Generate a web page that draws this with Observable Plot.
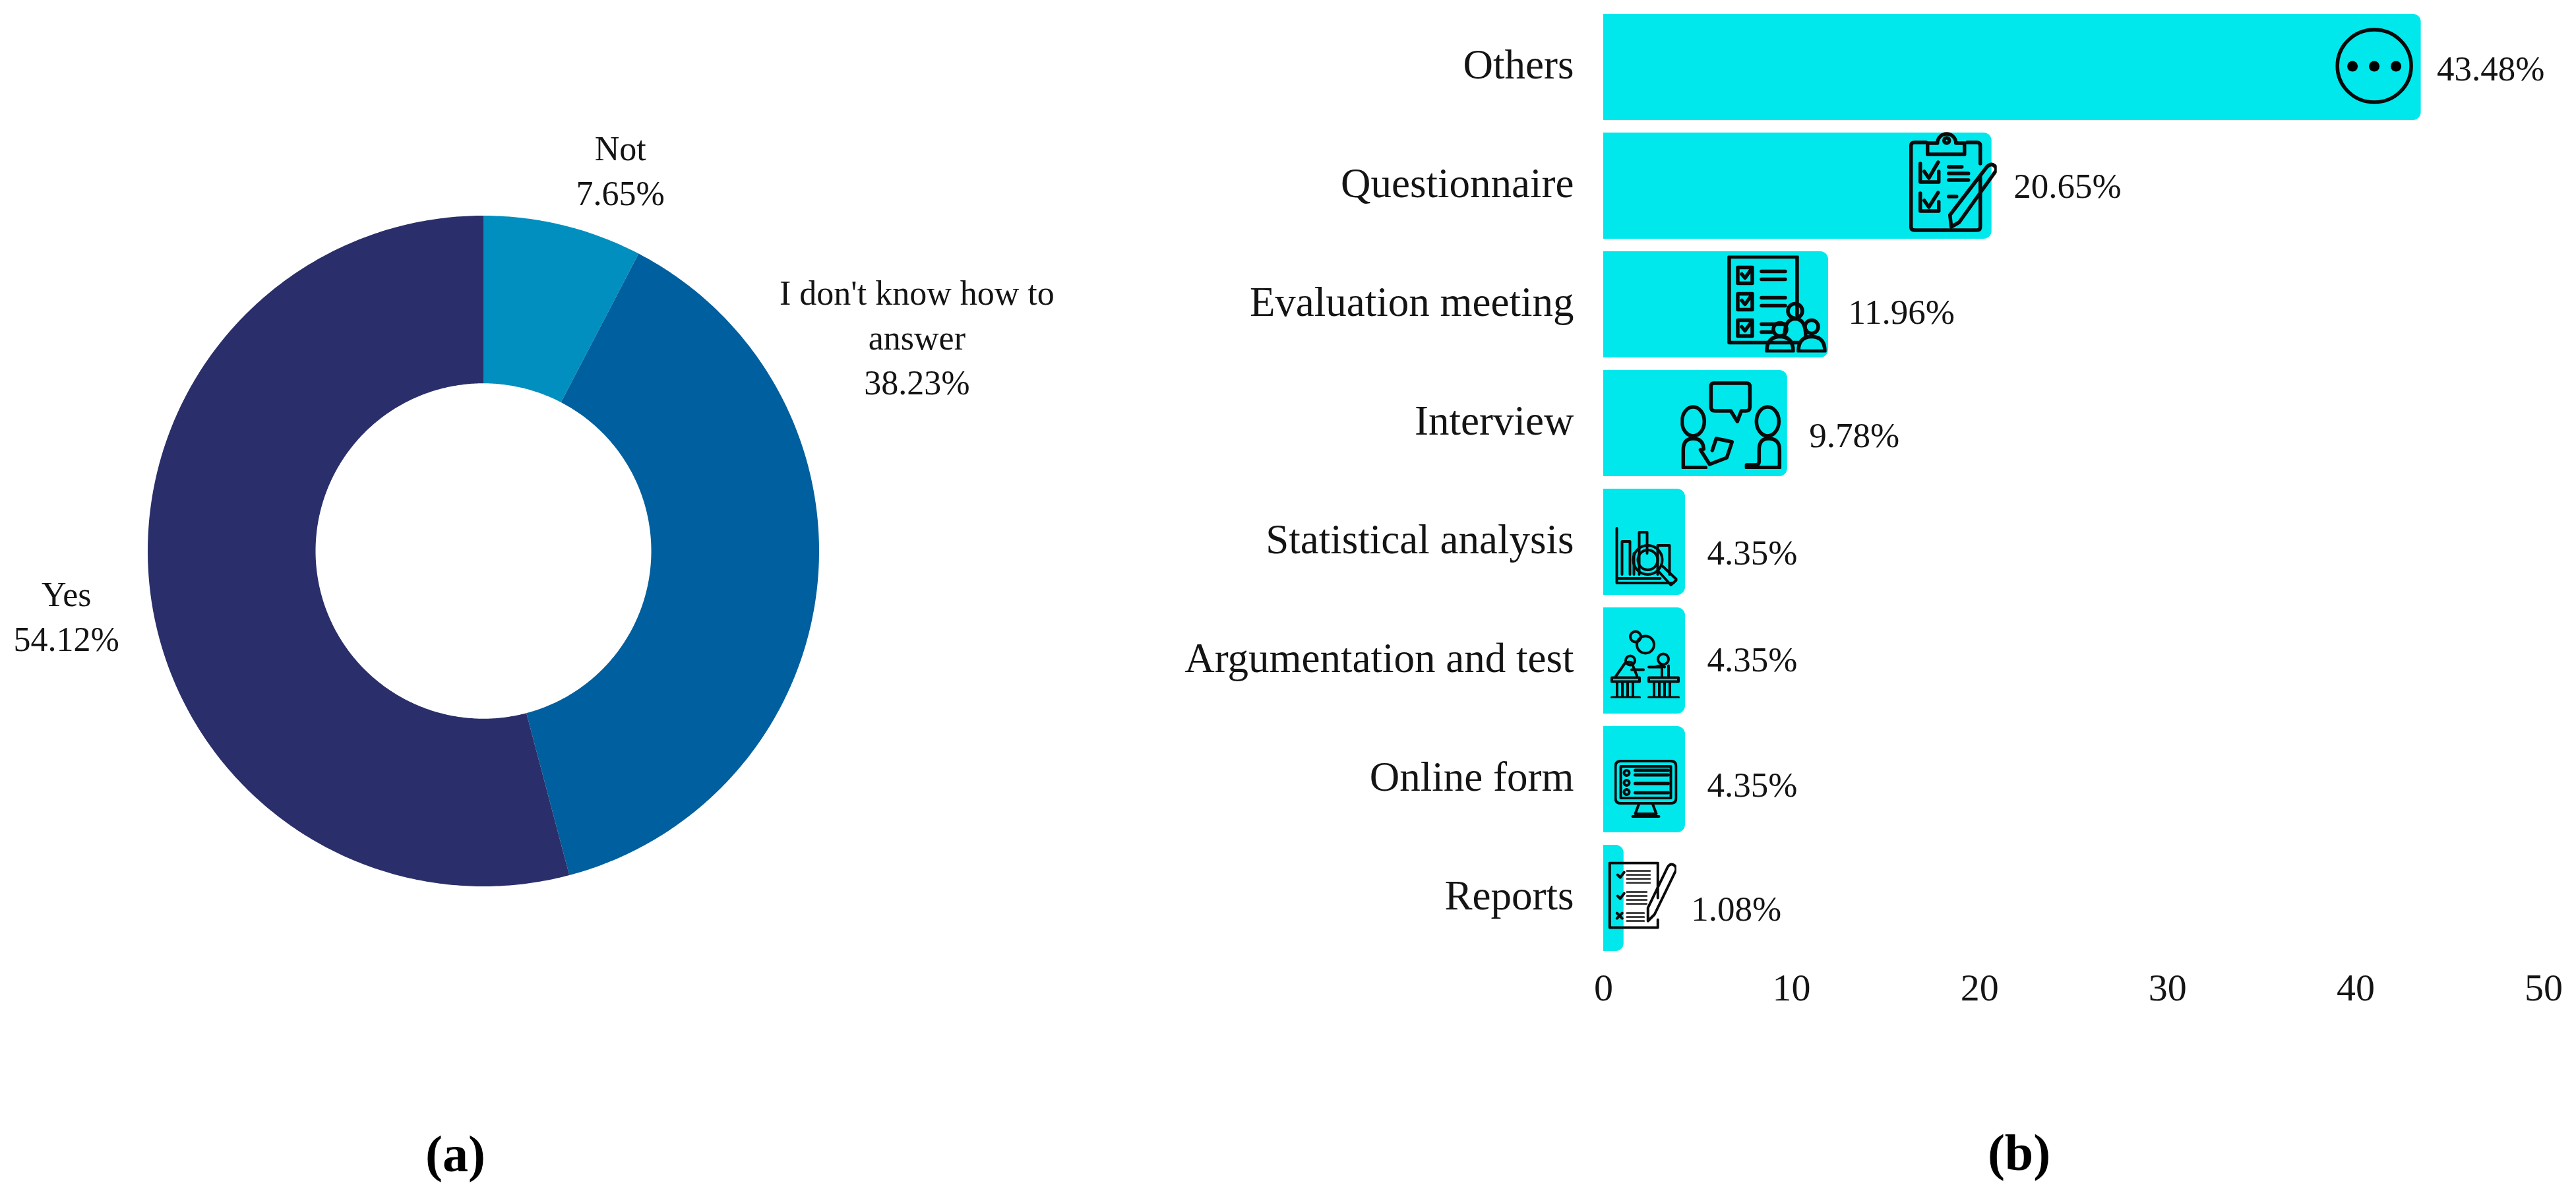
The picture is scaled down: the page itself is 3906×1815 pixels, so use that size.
<!DOCTYPE html>
<html><head><meta charset="utf-8">
<script src="https://cdn.jsdelivr.net/npm/d3@7"></script>
<script src="https://cdn.jsdelivr.net/npm/@observablehq/plot@0.6"></script>
<style>
html,body{margin:0;padding:0;background:#fff}
#wrap{display:flex;width:3906px;height:1815px;overflow:hidden}
#wrap svg,#wrap figure{display:block;margin:0;max-width:none}
</style></head><body><div id="wrap"></div>
<script>
// ---- Data (a)
const answers = ["Not", "I don't know how to answer", "Yes"];
const shares = [7.65, 38.23, 54.12];
const answerLabels = ["Not\n7.65%", "I don't know how to\nanswer\n38.23%", "Yes\n54.12%"];
const answerColors = ["#008FBF", "#005F9E", "#2A2F6B"];
// ---- Data (b)
const methods = ["Others","Questionnaire","Evaluation meeting","Interview","Statistical analysis","Argumentation and test","Online form","Reports"];
const percents = [43.48,20.65,11.96,9.78,4.35,4.35,4.35,1.08];
const xTicks = [0,10,20,30,40,50];
// ---- Label and icon offsets, in pixels
const answerNudge = [[86,-87],[151,-384],[-128,30]];
const percentNudge = [[24,3],[33,1],[30,12],[33,19],[33,17],[33,-1],[33,9],[102,17]];
const iconNudge = [[-71,-2],[-59,-7],[-77,-1],[-85,2],[-60,22],[-61,4],[-60,14],[27,-3]];
const iconSize = [[118,117],[133,154],[153,147],[154,134],[96,90],[105,105],[96,88],[105,105]];
const S = 'fill="none" stroke="#0a0a0a" stroke-width="5.5" stroke-linejoin="round" stroke-linecap="round"';
const T = 'fill="none" stroke="#0a0a0a" stroke-width="4" stroke-linejoin="round" stroke-linecap="round"';
const iconBodies = [
 `<ellipse cx="59" cy="58.5" rx="56" ry="55" ${S}/><circle cx="26" cy="59" r="8"/><circle cx="59" cy="59" r="8"/><circle cx="92" cy="59" r="8"/>`,
 `<g ${S}><path d="M26 18H8q-5 0-5 5V146q0 5 5 5H103q5 0 5-5V70M108 50V23q0-5-5-5H88"/><path d="M28 36H84V19H71A14 14 0 0 0 43 19H28Z"/><circle cx="57" cy="15" r="4"/><path d="M17 50V78H45V62M23 62l7 10 14-24M17 95V122H45V108M23 106l7 10 14-22M60 55H80M60 65H90M60 75H90M60 100H72"/><path d="M64 146l-2-18L118 55q6-6 11-2t2 9L76 139Z"/></g>`,
 `<g ${S}><path d="M108 132H3V2H106V90"/><path d="M16 18H38V42H16ZM16 58H38V82H16ZM16 98H38V122H16ZM22 28l5 6 10-14M22 68l5 6 10-14M22 108l5 6 10-14M52 24H88M52 36H88M52 64H88M52 76H88M52 104H88M52 116H68"/><circle cx="103" cy="84" r="11"/><path d="M87 122q0-26 16-26t16 26"/><circle cx="80" cy="112" r="10"/><path d="M60 145q0-22 20-22t20 22Z"/><circle cx="128" cy="108" r="10"/><path d="M108 145q0-22 20-22t20 22Z"/></g>`,
 `<g ${S}><ellipse cx="19" cy="62" rx="17" ry="22"/><ellipse cx="132" cy="62" rx="17" ry="22"/><path d="M50 4H100q5 0 5 5V40q0 6-6 6H92L86 62 76 46H52q-6 0-6-6V9q0-5 4-5Z"/><path d="M4 132V105q0-17 15-17t16 16M38 132H4M30 105l14 22 26-10 8-24-24-5-6 18M150 132V105q0-17-17-17-14 0-14 17v18q0 5-6 5H100v4h50"/></g>`,
 `<g ${T}><path d="M4 2V85H90M4 78H70M12 72V22H24V72M38 72V8H50V40M66 72V28H84V72M30 72V40"/><circle cx="51" cy="50" r="22"/><circle cx="51" cy="50" r="15"/><path d="M67 67L86 88 95 80 74 60"/></g>`,
 `<g ${T}><circle cx="38" cy="12" r="8"/><circle cx="53" cy="24" r="13"/><circle cx="30" cy="48" r="7"/><path d="M8 72 22 52q4-3 10-1l8 20M32 62H50"/><circle cx="80" cy="46" r="8"/><path d="M58 58H78V72M88 56V72M68 58q8-4 14 0"/><path d="M2 74H44V80H2ZM10 80V104M18 80V104M26 80V104M34 80V104M2 104H44M58 74H103V80H58ZM66 80V104M74 80V104M82 80V104M90 80V104M58 104H103"/></g>`,
 `<g ${T}><path d="M10 2H86q8 0 8 8V58q0 8-8 8H10q-8 0-8-8V10q0-8 8-8ZM10 10H86V58H10ZM38 66 32 82H64L58 66M28 86H68"/><circle cx="19" cy="20" r="4"/><circle cx="19" cy="35" r="4"/><circle cx="19" cy="49" r="4"/><path stroke-width="5" d="M32 16H82M32 23H82M32 36H82M32 50H82"/></g>`,
 `<g ${T}><path d="M77 88V100H4V2H77V55"/><path d="M16 20l4 4 6-8M16 52l4 4 6-8M15 86l8-8M15 78l8 8"/><path stroke="#444" stroke-width="3" d="M30 14H65M30 20H65M30 26H65M30 32H65M30 46H60M30 52H60M30 58H60M30 64H60M30 78H56M30 84H56M30 90H56"/><path d="M62 90V70L92 8q4-6 9-3t3 9L72 80Z"/></g>`
];
const iconSrc = iconBodies.map((b,i)=>"data:image/svg+xml;charset=utf-8,"+encodeURIComponent(
 `<svg xmlns="http://www.w3.org/2000/svg" width="${iconSize[i][0]}" height="${iconSize[i][1]}" viewBox="0 0 ${iconSize[i][0]} ${iconSize[i][1]}">${b}</svg>`));

const serif = "'Liberation Serif','Times New Roman',serif";
const ink = "#141414";

// ---- Ring outline derived from the shares (outer and inner edge of every slice)
const holeRatio = 0.5;
const arcs = d3.pie().sort(null)(shares);
const ringRows = arcs.flatMap((a,i)=>{
  const rows=[]; const steps=Math.ceil((a.endAngle-a.startAngle)/0.01);
  for(let k=0;k<=steps;k++){const t=a.startAngle+(a.endAngle-a.startAngle)*k/steps;
    rows.push({answer:answers[i],xo:Math.sin(t),yo:Math.cos(t),xi:holeRatio*Math.sin(t),yi:holeRatio*Math.cos(t)});}
  return rows;});
const mid = arcs.map(a=>(a.startAngle+a.endAngle)/2);

const donut = Plot.plot({
  width:1650,height:1815,margin:0,
  style:{fontFamily:serif,background:"transparent"},
  x:{domain:[-1,1],range:[224,1242],axis:null},
  y:{domain:[-1,1],range:[1344,327],axis:null},
  color:{domain:answers,range:answerColors},
  marks:[
    Plot.area(ringRows,{x1:"xo",y1:"yo",x2:"xi",y2:"yi",z:"answer",fill:"answer"}),
    ...answers.map((c,i)=>Plot.text([answerLabels[i]],{
      x:()=>Math.sin(mid[i]),y:()=>Math.cos(mid[i]),text:d=>d,
      dx:answerNudge[i][0],dy:answerNudge[i][1],
      fontSize:52,lineHeight:1.31,fill:ink,textAnchor:"middle"})),
    Plot.text(["(a)"],{x:()=>0,y:()=>-1,text:d=>d,dx:-43,dy:407,fontSize:78,fontWeight:"bold",fill:"#000",textAnchor:"middle"})
  ]
});

const bars = Plot.plot({
  width:2256,height:1815,
  marginLeft:781,marginRight:49.5,marginTop:0.5,marginBottom:352.5,
  style:{fontFamily:serif,background:"transparent"},
  x:{domain:[0,50],label:null,ticks:xTicks},
  y:{domain:methods,label:null,padding:0.108},
  marks:[
    Plot.barX(methods.map((m,i)=>({m,v:percents[i]})),{x:"v",y:"m",fill:"#00E8EC",rx2:12}),
    ...methods.map((m,i)=>Plot.image([m],{x:()=>percents[i],y:d=>d,src:()=>iconSrc[i],
      width:iconSize[i][0],height:iconSize[i][1],dx:iconNudge[i][0],dy:iconNudge[i][1]})),
    ...methods.map((m,i)=>Plot.text([m],{x:()=>percents[i],y:d=>d,text:()=>percents[i].toFixed(2)+"%",
      dx:percentNudge[i][0],dy:percentNudge[i][1],fontSize:53,fill:ink,textAnchor:"start"})),
    Plot.axisY({tickSize:0,tickPadding:45,fontSize:63,fill:ink,label:null,dy:-3}),
    Plot.axisX({ticks:xTicks,tickSize:0,tickPadding:13,fontSize:58,fill:ink,label:null,lineAnchor:"top"}),
    Plot.text(["(b)"],{x:()=>22.1,y:()=>"Reports",text:d=>d,dy:387,fontSize:78,fontWeight:"bold",fill:"#000",textAnchor:"middle"})
  ]
});
const wrap=document.getElementById("wrap");
wrap.append(donut,bars);
</script></body></html>
